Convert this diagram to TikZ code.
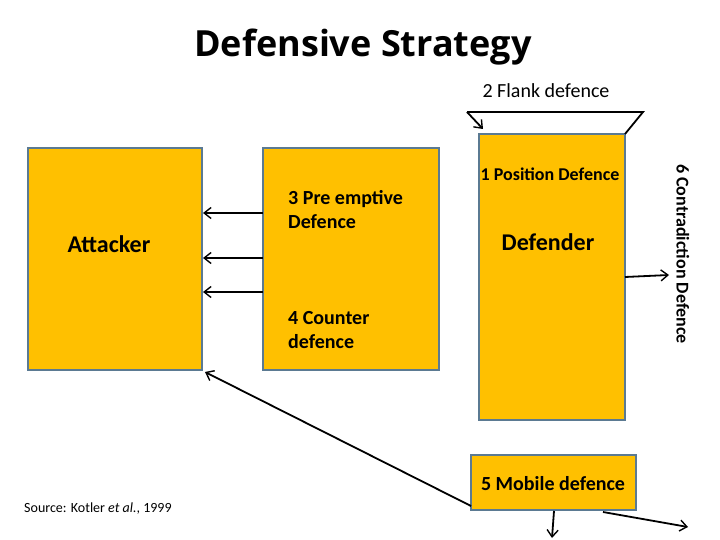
\documentclass[tikz,border=0pt]{standalone}
\usepackage{fontspec}
\setmainfont{Carlito}
\newfontfamily\titlefont{Open Sans}
\usetikzlibrary{arrows.meta}
\definecolor{gold}{HTML}{FFC000}
\definecolor{edgeblue}{HTML}{5B7A92}
\tikzset{
  box/.style={draw=edgeblue, line width=1.2pt, fill=gold, inner sep=0pt},
  lbl/.style={inner sep=0pt, font=\bfseries\fontsize{20}{24}\selectfont, align=left},
  conn/.style={line width=1.8pt, -{Straight Barb[length=7pt,width=11pt,line width=1.4pt]}},
}
\begin{document}
\begin{tikzpicture}[x=1pt,y=-1pt]
\path[use as bounding box] (0,0) rectangle (720,540);
% title
\node[inner sep=0pt, font=\titlefont\bfseries\fontsize{36}{40}\selectfont] (title) at (363,47) {Defensive Strategy};
% boxes
\node[box, minimum width=174pt, minimum height=222pt] (att) at (115,259) {};
\node[box, minimum width=176pt, minimum height=222pt] (mid) at (351,259) {};
\node[box, minimum width=146pt, minimum height=286pt] (def) at (552,277) {};
\node[box, minimum width=165pt, minimum height=55pt] (mob) at (553.5,482.5) {};
% texts
\node[lbl, font=\bfseries\fontsize{24}{28}\selectfont] (tatt) at (109,244) {Attacker};
\node[lbl, anchor=west] (tpre) at (288,210) {3 Pre emptive\\Defence};
\node[lbl, anchor=west] (tcnt) at (288,330) {4 Counter\\defence};
\node[lbl, font=\bfseries\fontsize{18}{21}\selectfont] (tpos) at (550,174) {1 Position Defence};
\node[lbl, font=\bfseries\fontsize{24}{28}\selectfont] (tdef) at (548,242) {Defender};
\node[lbl] (tmob) at (553,484) {5 Mobile defence};
\node[inner sep=0pt, font=\fontsize{20}{24}\selectfont] (tflank) at (546,91) {2 Flank defence};
\node[inner sep=0pt, font=\bfseries\fontsize{18}{21}\selectfont, rotate=-90] (tcon) at (683,254) {6 Contradiction Defence};
\node[inner sep=0pt, anchor=west, font=\fontsize{14}{16}\selectfont] (src) at (24,509) {Source: Kotler \textit{et al.}, 1999};
% coordinates
\coordinate (m1) at (263,213); \coordinate (a1) at (203,213);
\coordinate (m2) at (263,258); \coordinate (a2) at (203,258);
\coordinate (m3) at (263,292); \coordinate (a3) at (203,292);
\coordinate (fl) at (467,112); \coordinate (fr) at (643,112);
\coordinate (ft) at (483,129);
\coordinate (dtr) at (625,134);
\coordinate (dc) at (625,277); \coordinate (ce) at (669,275);
\coordinate (ml) at (471,506); \coordinate (ab) at (205,372);
\coordinate (mb) at (554,511); \coordinate (md) at (552,538);
\coordinate (mr) at (603,512); \coordinate (me) at (688,527);
% connectors
\draw[conn] (m1) -- (a1);
\draw[conn] (m2) -- (a2);
\draw[conn] (m3) -- (a3);
\draw[line width=1.8pt] (dtr) -- (fr) -- (fl);
\draw[conn] (fl) -- (ft);
\draw[conn] (dc) -- (ce);
\draw[conn] (ml) -- (ab);
\draw[conn] (mb) -- (md);
\draw[conn] (mr) -- (me);
\end{tikzpicture}
\end{document}
